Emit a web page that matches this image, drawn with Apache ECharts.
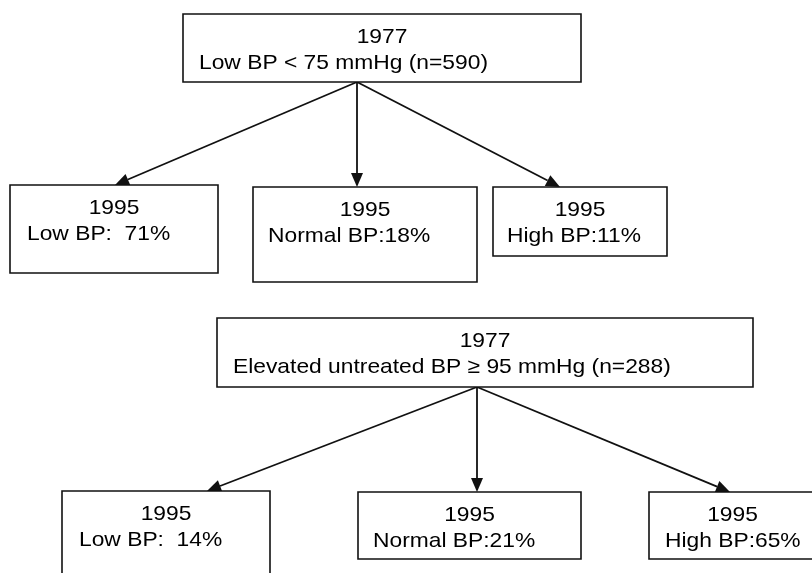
<!DOCTYPE html>
<html lang="en">
  <head>
    <meta charset="UTF-8" />
    <title>BP tracking 1977-1995</title>
    <script src="https://cdn.jsdelivr.net/npm/echarts@6/dist/echarts.min.js"></script>
    <style>
      html, body { margin: 0; padding: 0; background: #fff; }
      #main { width: 812px; height: 573px; }
    </style>
  </head>
  <body>
    <div id="main"></div>
    <script>
      // box texts
      var years = ["1977", "1995", "1995", "1995", "1977", "1995", "1995", "1995"];
      var labels = [
        "Low BP < 75 mmHg (n=590)",
        "Low BP:  71%",
        "Normal BP:18%",
        "High BP:11%",
        "Elevated untreated BP \u2265 95 mmHg (n=288)",
        "Low BP:  14%",
        "Normal BP:21%",
        "High BP:65%"
      ];

      // box layout in page units (axis 0..812 x 0..573)
      var boxLeft = [183, 10, 253, 493, 217, 62, 358, 649];
      var boxTop = [14, 185, 187, 187, 318, 491, 492, 492];
      var boxRight = [581, 218, 477, 667, 753, 270, 581, 816];
      var boxBottom = [82, 273, 282, 256, 387, 600, 559, 559];
      var textLeft = [199, 27, 268, 507, 233, 79, 373, 665];

      // arrows: from box -> to box
      var links = [[0, 1], [0, 2], [0, 3], [4, 5], [4, 6], [4, 7]];
      var fromX = [357, 357, 357, 477, 477, 477];
      var toX = [115, 357, 560, 207, 477, 730];

      var FONT = "Liberation Sans, Arial, sans-serif";
      var SX = 1.086;

      var chart = echarts.init(document.getElementById("main"));

      function renderBox(params, api) {
        var i = params.dataIndex;
        var p0 = api.coord([api.value(0), api.value(1)]);
        var p1 = api.coord([api.value(2), api.value(3)]);
        var cx = (p0[0] + p1[0]) / 2;
        var tl = api.coord([textLeft[i], 0])[0];
        return {
          type: "group",
          children: [
            {
              type: "rect",
              shape: { x: p0[0], y: p0[1], width: p1[0] - p0[0], height: p1[1] - p0[1] },
              style: { fill: "#fff", stroke: "#111", lineWidth: 1.6 }
            },
            {
              type: "text",
              x: cx,
              y: p0[1] + 23,
              scaleX: SX,
              style: {
                text: years[i], fill: "#000", font: "21px " + FONT,
                align: "center", verticalAlign: "middle"
              }
            },
            {
              type: "text",
              x: tl,
              y: p0[1] + 49,
              scaleX: SX,
              style: {
                text: labels[i], fill: "#000", font: "21px " + FONT,
                align: "left", verticalAlign: "middle"
              }
            }
          ]
        };
      }

      function renderArrow(params, api) {
        var a = api.coord([api.value(0), api.value(1)]);
        var b = api.coord([api.value(2), api.value(3)]);
        var dx = b[0] - a[0], dy = b[1] - a[1];
        var len = Math.sqrt(dx * dx + dy * dy);
        var ux = dx / len, uy = dy / len;
        var hl = 14, hw = 6;
        var bx = b[0] - ux * hl, by = b[1] - uy * hl;
        return {
          type: "group",
          children: [
            {
              type: "line",
              shape: { x1: a[0], y1: a[1], x2: bx, y2: by },
              style: { stroke: "#111", lineWidth: 1.8 }
            },
            {
              type: "polygon",
              shape: {
                points: [
                  [b[0], b[1]],
                  [bx - uy * hw, by + ux * hw],
                  [bx + uy * hw, by - ux * hw]
                ]
              },
              style: { fill: "#111" }
            }
          ]
        };
      }

      var option = {
        animation: false,
        grid: { left: 0, right: 0, top: 0, bottom: 0 },
        xAxis: { type: "value", min: 0, max: 812, show: false },
        yAxis: { type: "value", min: 0, max: 573, inverse: true, show: false },
        series: [
          {
            type: "custom",
            renderItem: renderArrow,
            data: links.map(function (l, i) {
              return [fromX[i], boxBottom[l[0]], toX[i], boxTop[l[1]]];
            })
          },
          {
            type: "custom",
            renderItem: renderBox,
            data: years.map(function (y, i) {
              return [boxLeft[i], boxTop[i], boxRight[i], boxBottom[i]];
            })
          }
        ]
      };

      chart.setOption(option);
    </script>
  </body>
</html>
